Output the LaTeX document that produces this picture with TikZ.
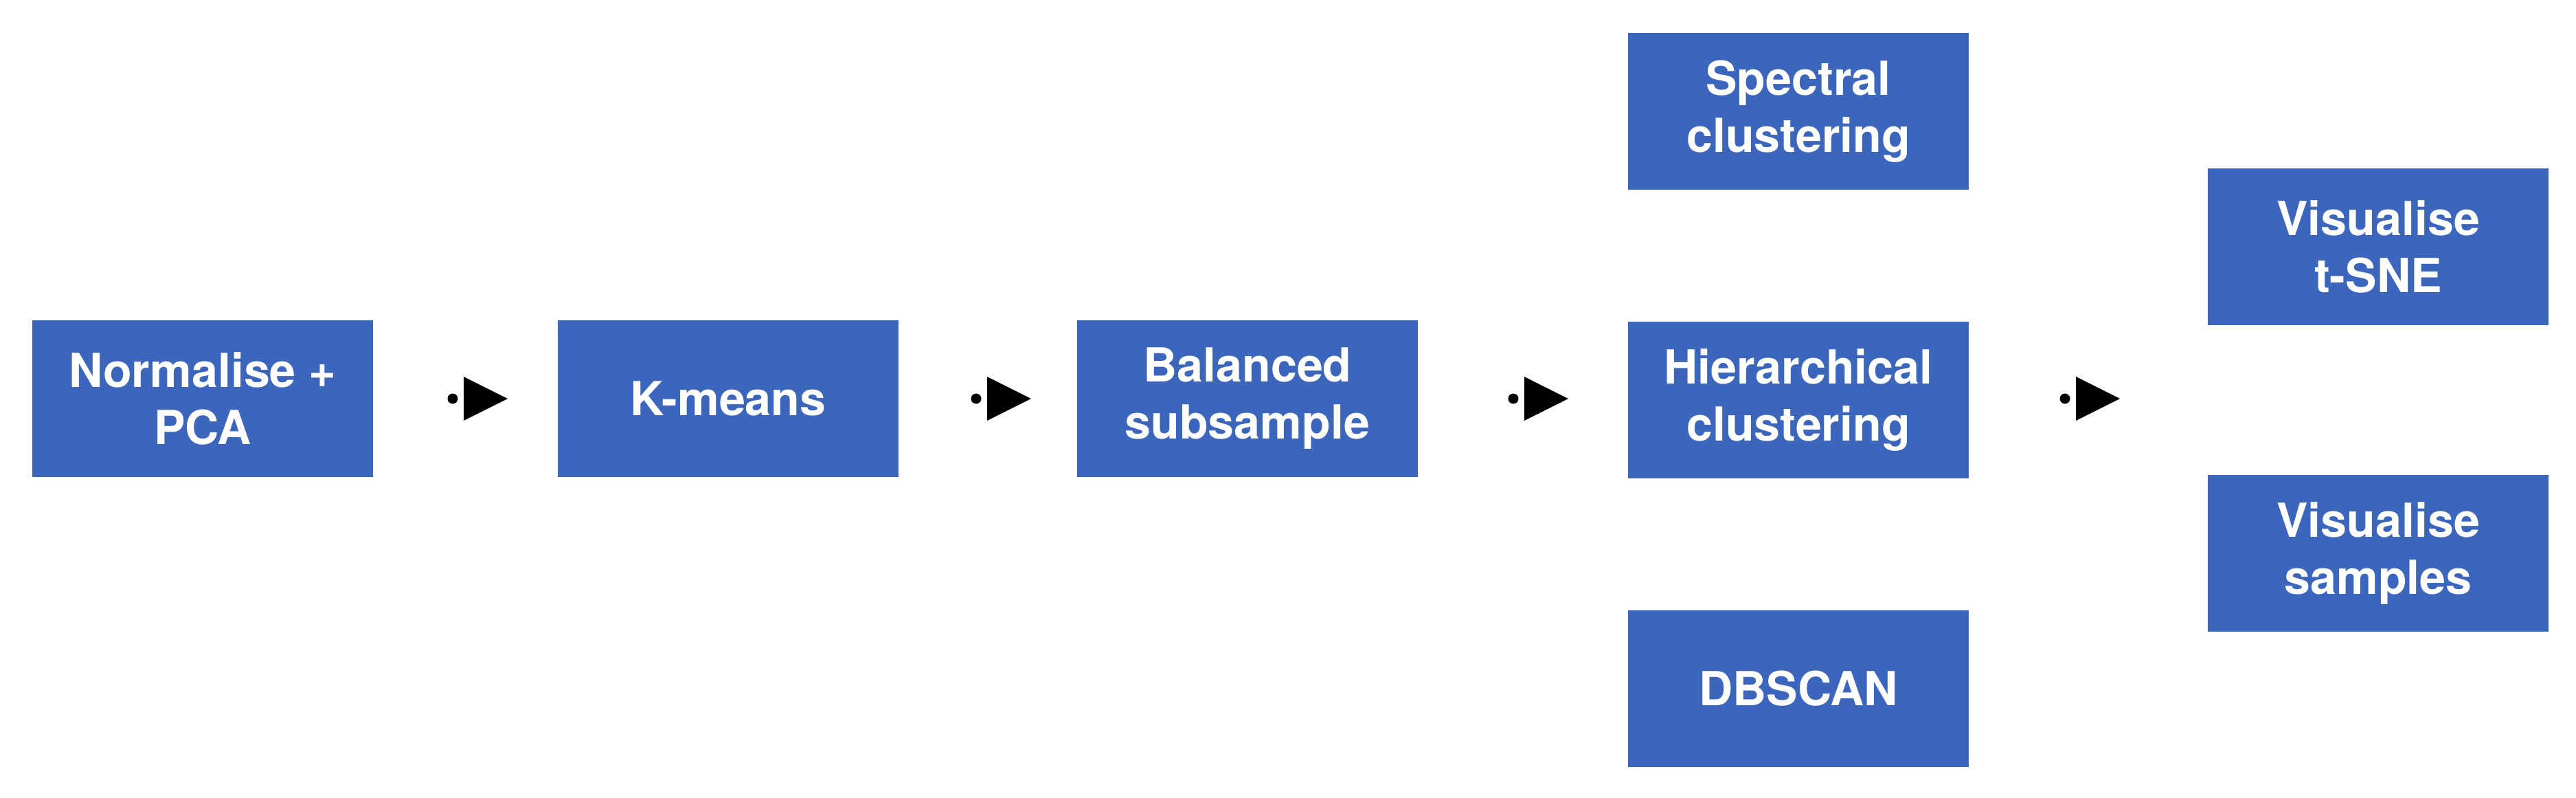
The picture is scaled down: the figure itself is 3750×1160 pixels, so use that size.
\documentclass[tikz,border=0pt]{standalone}
\usepackage{fontspec}
\setmainfont{TeX Gyre Heros}
\definecolor{boxblue}{RGB}{59,102,188}
\tikzset{
  procbox/.style={fill=boxblue, draw=none, minimum width=4.96cm, minimum height=2.28cm,
    inner sep=0pt, align=center, text=white, font=\fontsize{19.4}{23.6}\selectfont\bfseries},
  arrowdot/.style={fill=black},
  arrowhead/.style={fill=black}
}
\newcommand{\flowarrow}[2]{% #1 name, #2 x of dot centre
  \coordinate (#1dot) at (#2,580);
  \coordinate (#1base) at ($(#1dot)+(16,0)$);
  \coordinate (#1tip) at ($(#1dot)+(80,0)$);
  \fill[arrowdot] (#1dot) circle[radius=0.075cm];
  \fill[arrowhead] ($(#1base)+(0,-32)$) -- (#1tip) -- ($(#1base)+(0,32)$) -- cycle;
}
\usetikzlibrary{calc}
\begin{document}
\begin{tikzpicture}[x=0.01cm,y=-0.01cm]
\useasboundingbox (0,0) rectangle (3750,1160);
\node[procbox] (norm) at (295,580) {Normalise +\\PCA};
\node[procbox] (kmeans) at (1060,580) {K-means};
\node[procbox] (bal) at (1816,580) {Balanced\\subsample};
\node[procbox] (spec) at (2618,162) {Spectral\\clustering};
\node[procbox] (hier) at (2618,582) {Hierarchical\\clustering};
\node[procbox] (dbscan) at (2618,1002) {DBSCAN};
\node[procbox] (tsne) at (3462,359) {Visualise\\t-SNE};
\node[procbox] (samp) at (3462,805) {Visualise\\samples};
\flowarrow{a}{659}
\flowarrow{b}{1421}
\flowarrow{c}{2203}
\flowarrow{d}{3006}
\end{tikzpicture}
\end{document}
